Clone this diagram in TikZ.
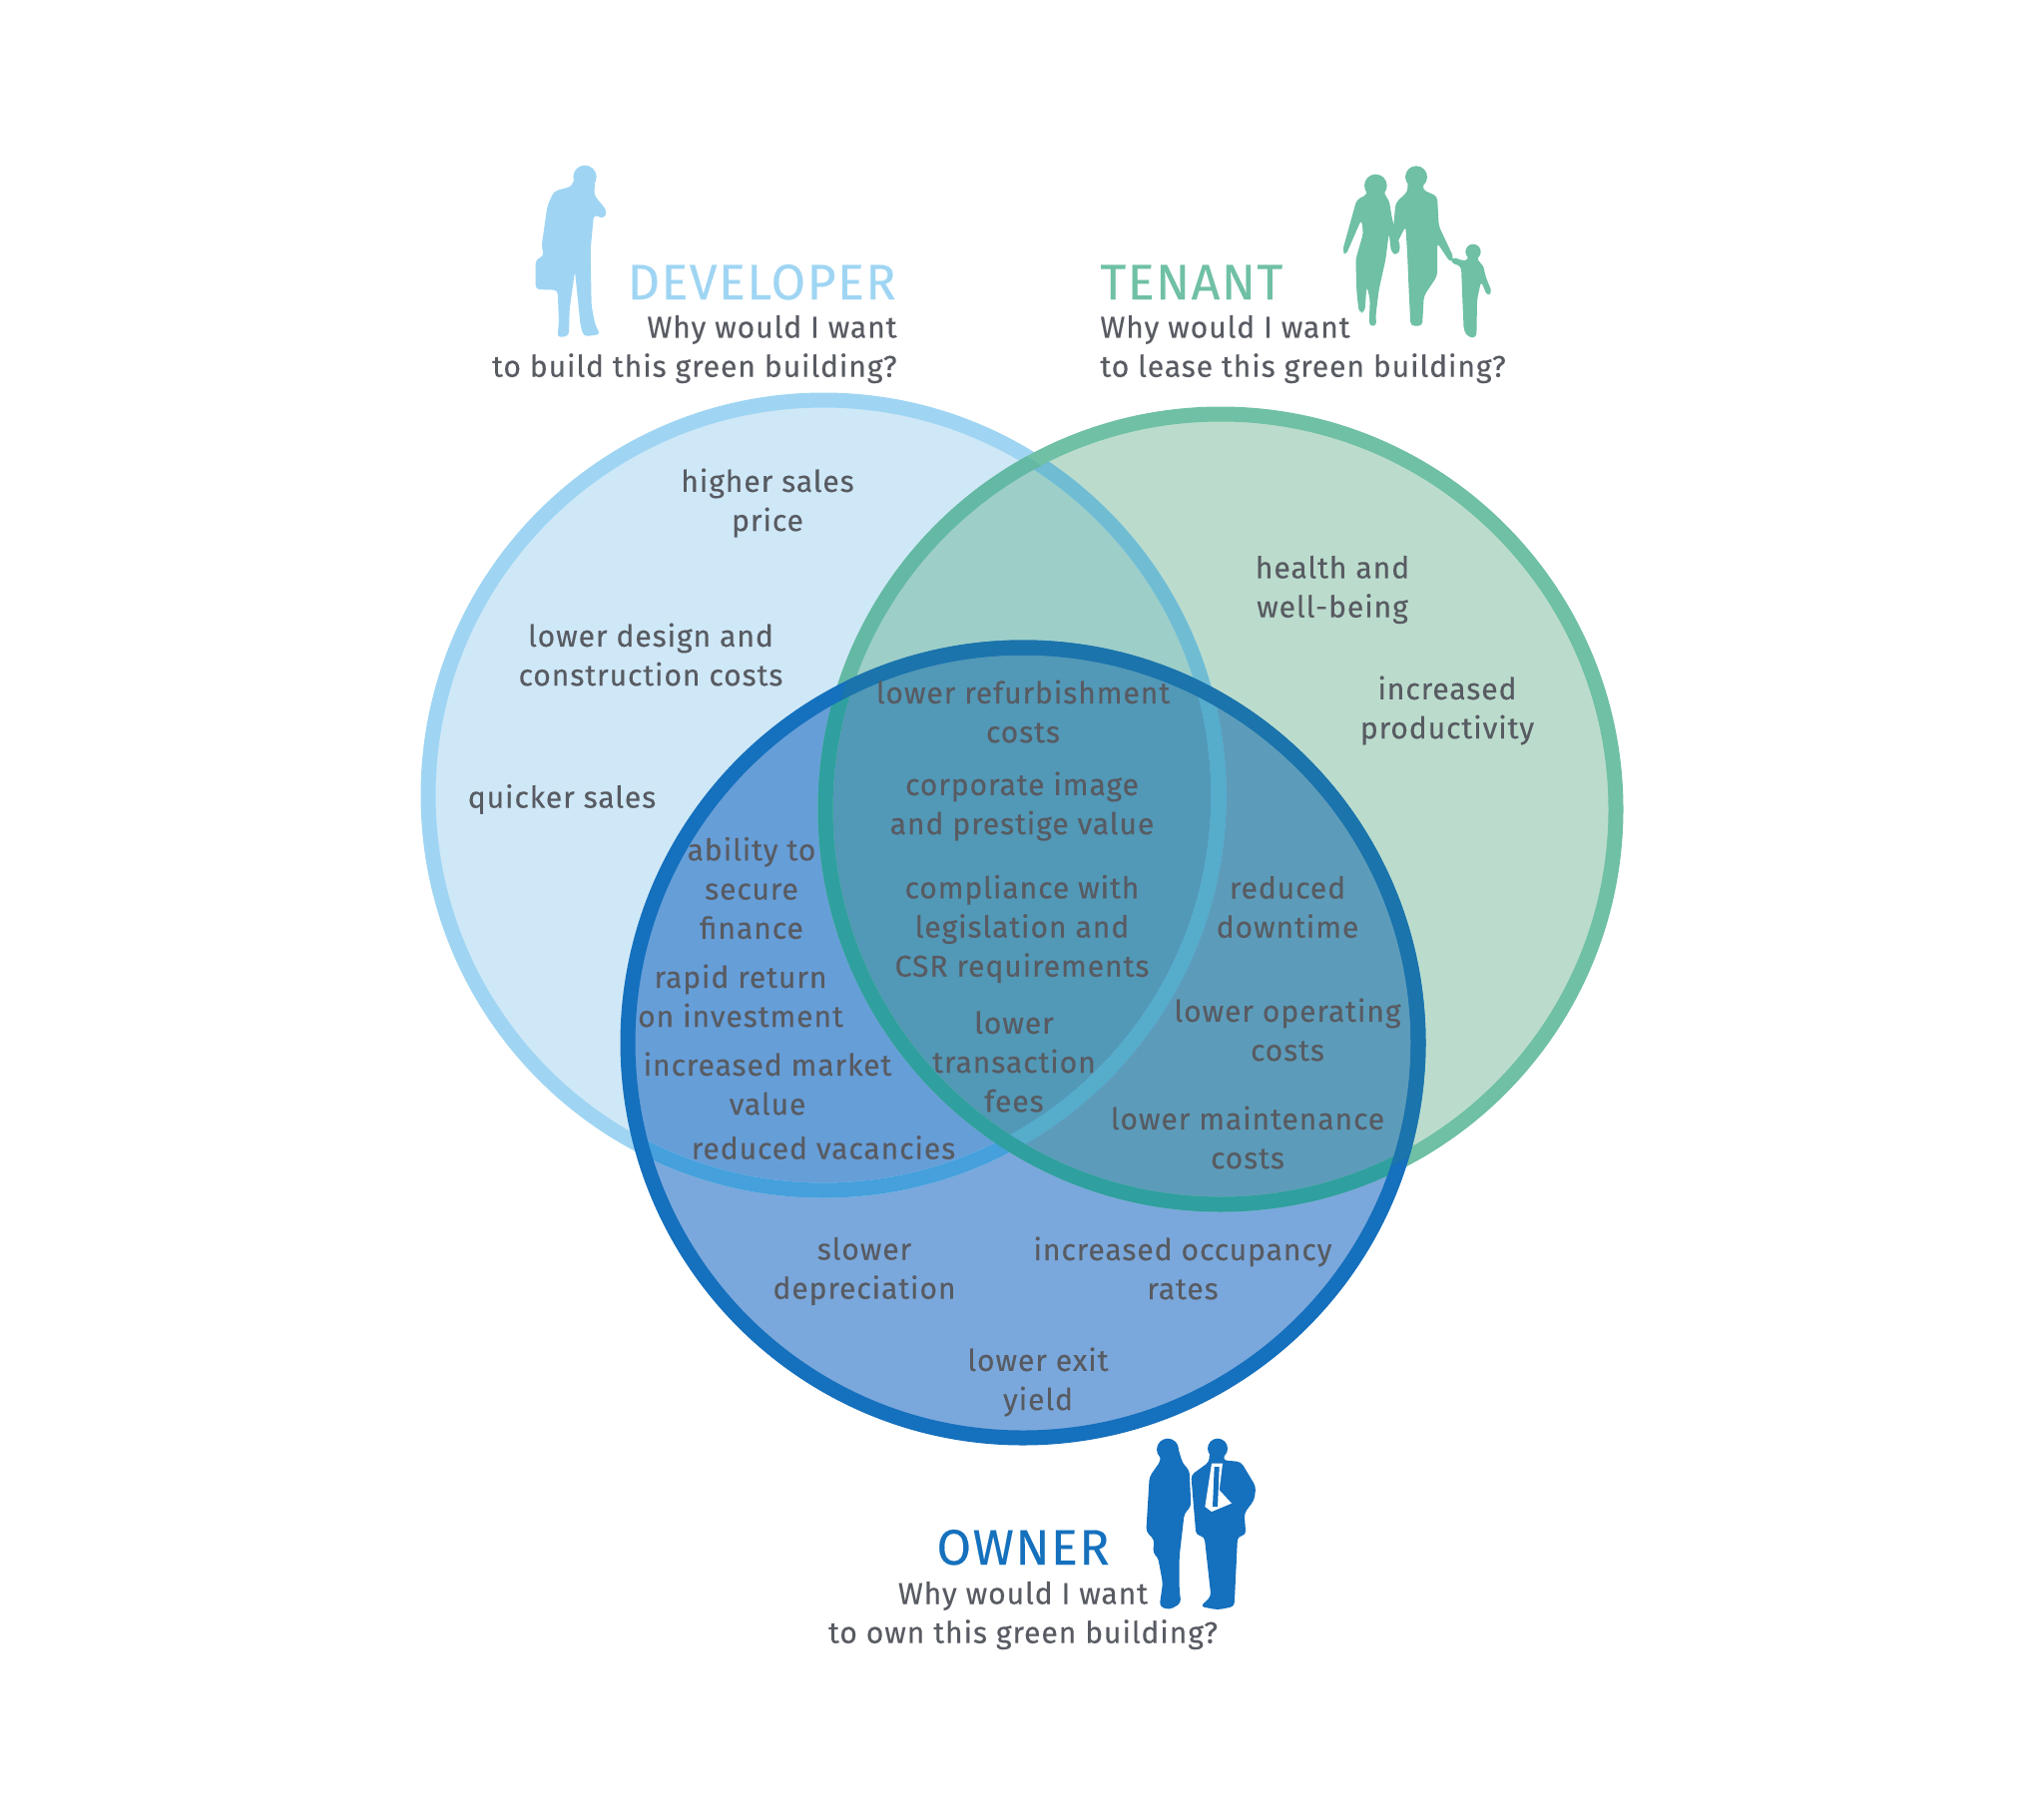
\documentclass[tikz,border=0pt]{standalone}
\usepackage{fontspec}
\setmainfont[LetterSpace=3,RawFeature={embolden=0.25}]{Fira Sans}
\usepackage{xcolor}
\definecolor{devblue}{HTML}{CFE8F7}
\definecolor{devring}{HTML}{9FD5F3}
\definecolor{devover}{HTML}{70BDD3}
\definecolor{devlow}{HTML}{45A0DC}
\definecolor{devhigh}{HTML}{55ACCB}
\definecolor{tenteal}{HTML}{54A882}
\definecolor{tenring}{HTML}{6FC0A4}
\definecolor{tenover}{HTML}{64B9A4}
\definecolor{tenlow}{HTML}{2F9F9F}
\definecolor{ownblue}{HTML}{216EC4}
\definecolor{ownring}{HTML}{1570BD}
\definecolor{ownover}{HTML}{1B74AB}
\definecolor{inkgray}{HTML}{585B62}
\def\devcircle{(825,797) circle (396)}
\def\tencircle{(1223,811) circle (396)}
\def\owncircle{(1025,1045) circle (396)}
\begin{document}
\begin{tikzpicture}[
  x=0.5pt, y=-0.5pt,
  ring/.style={line width=7.5pt},
  lbl/.style={align=center, text=inkgray, inner sep=0pt,
              font=\fontsize{15.05}{19.6}\selectfont},
  ask/.style={lbl},
  head/.style={inner sep=0pt, font=\fontsize{25}{26}\selectfont},
  trace/.style={x=0.16667pt, y=-0.16667pt},
  outline/.style={rounded corners=2pt}
]
\useasboundingbox (0,0) rectangle (2048,1814);
% discs
\fill[devblue] \devcircle;
\fill[tenteal, opacity=0.4] \tencircle;
\fill[ownblue, opacity=0.6] \owncircle;
\begin{scope}
  \clip \tencircle;
  \fill[tenteal, opacity=0.2] \owncircle;
\end{scope}
% rings, recoloured where they cross another disc
\draw[ring, devring] \devcircle;
\begin{scope}
  \clip \tencircle;
  \draw[ring, devover] \devcircle;
\end{scope}
\draw[ring, tenring] \tencircle;
\begin{scope}
  \clip \devcircle;
  \draw[ring, tenover] \tencircle;
\end{scope}
\begin{scope}
  \clip \owncircle;
  \draw[ring, devlow] \devcircle;
  \begin{scope}
    \clip \tencircle;
    \draw[ring, devhigh] \devcircle;
  \end{scope}
  \draw[ring, tenlow] \tencircle;
\end{scope}
\draw[ring, ownring] \owncircle;
\begin{scope}
  \clip \tencircle;
  \draw[ring, ownover] \owncircle;
\end{scope}
% developer figure
\begin{scope}[shift={(480,150)}, trace]
  \fill[devring] (318,82) circle (35);
  \fill[devring, outline] (350,95) -- (345,135) -- (385,185) -- (375,208)
    -- (345,195) -- (335,300) -- (338,470) -- (350,530) -- (365,555) -- (315,562) -- (305,530)
    -- (288,365) -- (272,480) -- (270,560) -- (235,565) -- (240,520) -- (236,422) -- (170,420)
    -- (170,330) -- (195,320) -- (188,290) -- (205,170) -- (225,125) -- (280,110) -- (285,85) -- cycle;
\end{scope}
% tenant figures
\begin{scope}[shift={(1090,150)}, trace]
  \fill[tenring] (865,108) circle (34);
  \fill[tenring, outline] (838,120) -- (892,120) -- (890,135) -- (905,150) -- (915,210)
    -- (940,295) -- (930,318) -- (912,310) -- (905,250) -- (895,330) -- (875,420) -- (865,500)
    -- (868,530) -- (845,530) -- (848,450) -- (838,410) -- (832,490) -- (815,490) -- (808,430)
    -- (805,330) -- (828,250) -- (822,210) -- (775,318) -- (765,305) -- (808,150) -- (840,135) -- cycle;
  \fill[tenring] (987,82) circle (33);
  \fill[tenring, outline] (960,95) -- (1012,95) -- (1005,120) -- (1050,140)
    -- (1055,230) -- (1100,325) -- (1090,340) -- (1050,280) -- (1050,380) -- (1010,440)
    -- (1005,530) -- (970,530) -- (965,430) -- (960,310) -- (955,230) -- (925,290)
    -- (915,270) -- (925,160) -- (962,125) -- cycle;
  \fill[tenring] (1158,307) circle (23);
  \fill[tenring, outline] (1142,315) -- (1174,315) -- (1170,335) -- (1188,345)
    -- (1195,380) -- (1215,430) -- (1200,440) -- (1182,395) -- (1170,450) -- (1168,565)
    -- (1145,565) -- (1130,545) -- (1125,430) -- (1122,350) -- (1090,340) -- (1095,322)
    -- (1130,335) -- (1145,330) -- cycle;
\end{scope}
% owner figures
\begin{scope}[shift={(810,1420)}, trace]
  \fill[ownring] (1080,98) circle (33);
  \fill[ownring, outline] (1110,90) -- (1125,140) -- (1145,160) -- (1150,270)
    -- (1130,290) -- (1115,420) -- (1115,520) -- (1120,560) -- (1085,580) -- (1055,570)
    -- (1065,500) -- (1050,420) -- (1035,410) -- (1040,370) -- (1015,345) -- (1025,180)
    -- (1060,130) -- (1048,90) -- cycle;
  \fill[ownring] (1230,95) circle (30);
  \fill[ownring, outline] (1205,105) -- (1255,105) -- (1245,130) -- (1300,135) -- (1345,210)
    -- (1340,250) -- (1310,290) -- (1315,355) -- (1290,360) -- (1280,570) -- (1230,580)
    -- (1178,570) -- (1210,540) -- (1190,360) -- (1165,355) -- (1150,175) -- (1205,135) -- cycle;
  \fill[white] (1212,140) -- (1245,140) -- (1235,220) -- (1272,260) -- (1212,285) -- (1192,270) -- cycle;
  \fill[ownring] (1220,150) -- (1235,150) -- (1230,270) -- (1215,270) -- cycle;
\end{scope}
% headings
\node[head, text=devring, anchor=base east] (devhead) at (898,300) {DEVELOPER};
\node[ask, align=right, anchor=east] (devask) at (899,350) {Why would I want\\ to build this green building?};
\node[head, text=tenring, anchor=base west] (tenhead) at (1102,300) {TENANT};
\node[ask, align=left, anchor=west] (tenask) at (1102,350) {Why would I want\\ to lease this green building?};
\node[head, text=ownring, anchor=base] (ownhead) at (1025,1568) {OWNER};
\node[ask, anchor=center] (ownask) at (1025,1619) {Why would I want\\ to own this green building?};
% labels
\node[lbl] (price) at (769,504) {higher sales\\ price};
\node[lbl] (design) at (652,656) {lower design and\\ construction costs};
\node[lbl] (sales) at (563,801) {quicker sales};
\node[lbl] (health) at (1335,591) {health and\\ well-being};
\node[lbl] (productivity) at (1450,712) {increased\\ productivity};
\node[lbl] (refurb) at (1025,713) {lower refurbishment\\ costs};
\node[lbl] (image) at (1024,808) {corporate image\\ and prestige value};
\node[lbl] (legal) at (1024,931) {compliance with\\ legislation and\\ CSR requirements};
\node[lbl] (downtime) at (1290,909) {reduced\\ downtime};
\node[lbl] (finance) at (753,890) {ability to\\ secure\\ finance};
\node[lbl] (return) at (742,998) {rapid return\\ on investment};
\node[lbl] (transaction) at (1016,1064) {lower\\ transaction\\ fees};
\node[lbl] (operating) at (1290,1032) {lower operating\\ costs};
\node[lbl] (market) at (769,1086) {increased market\\ value};
\node[lbl] (maintenance) at (1250,1140) {lower maintenance\\ costs};
\node[lbl] (vacancies) at (825,1150) {reduced vacancies};
\node[lbl] (depreciation) at (866,1274) {slower\\ depreciation};
\node[lbl] (occupancy) at (1185,1271) {increased occupancy\\ rates};
\node[lbl] (yield) at (1040,1385) {lower exit\\ yield};
\end{tikzpicture}
\end{document}
